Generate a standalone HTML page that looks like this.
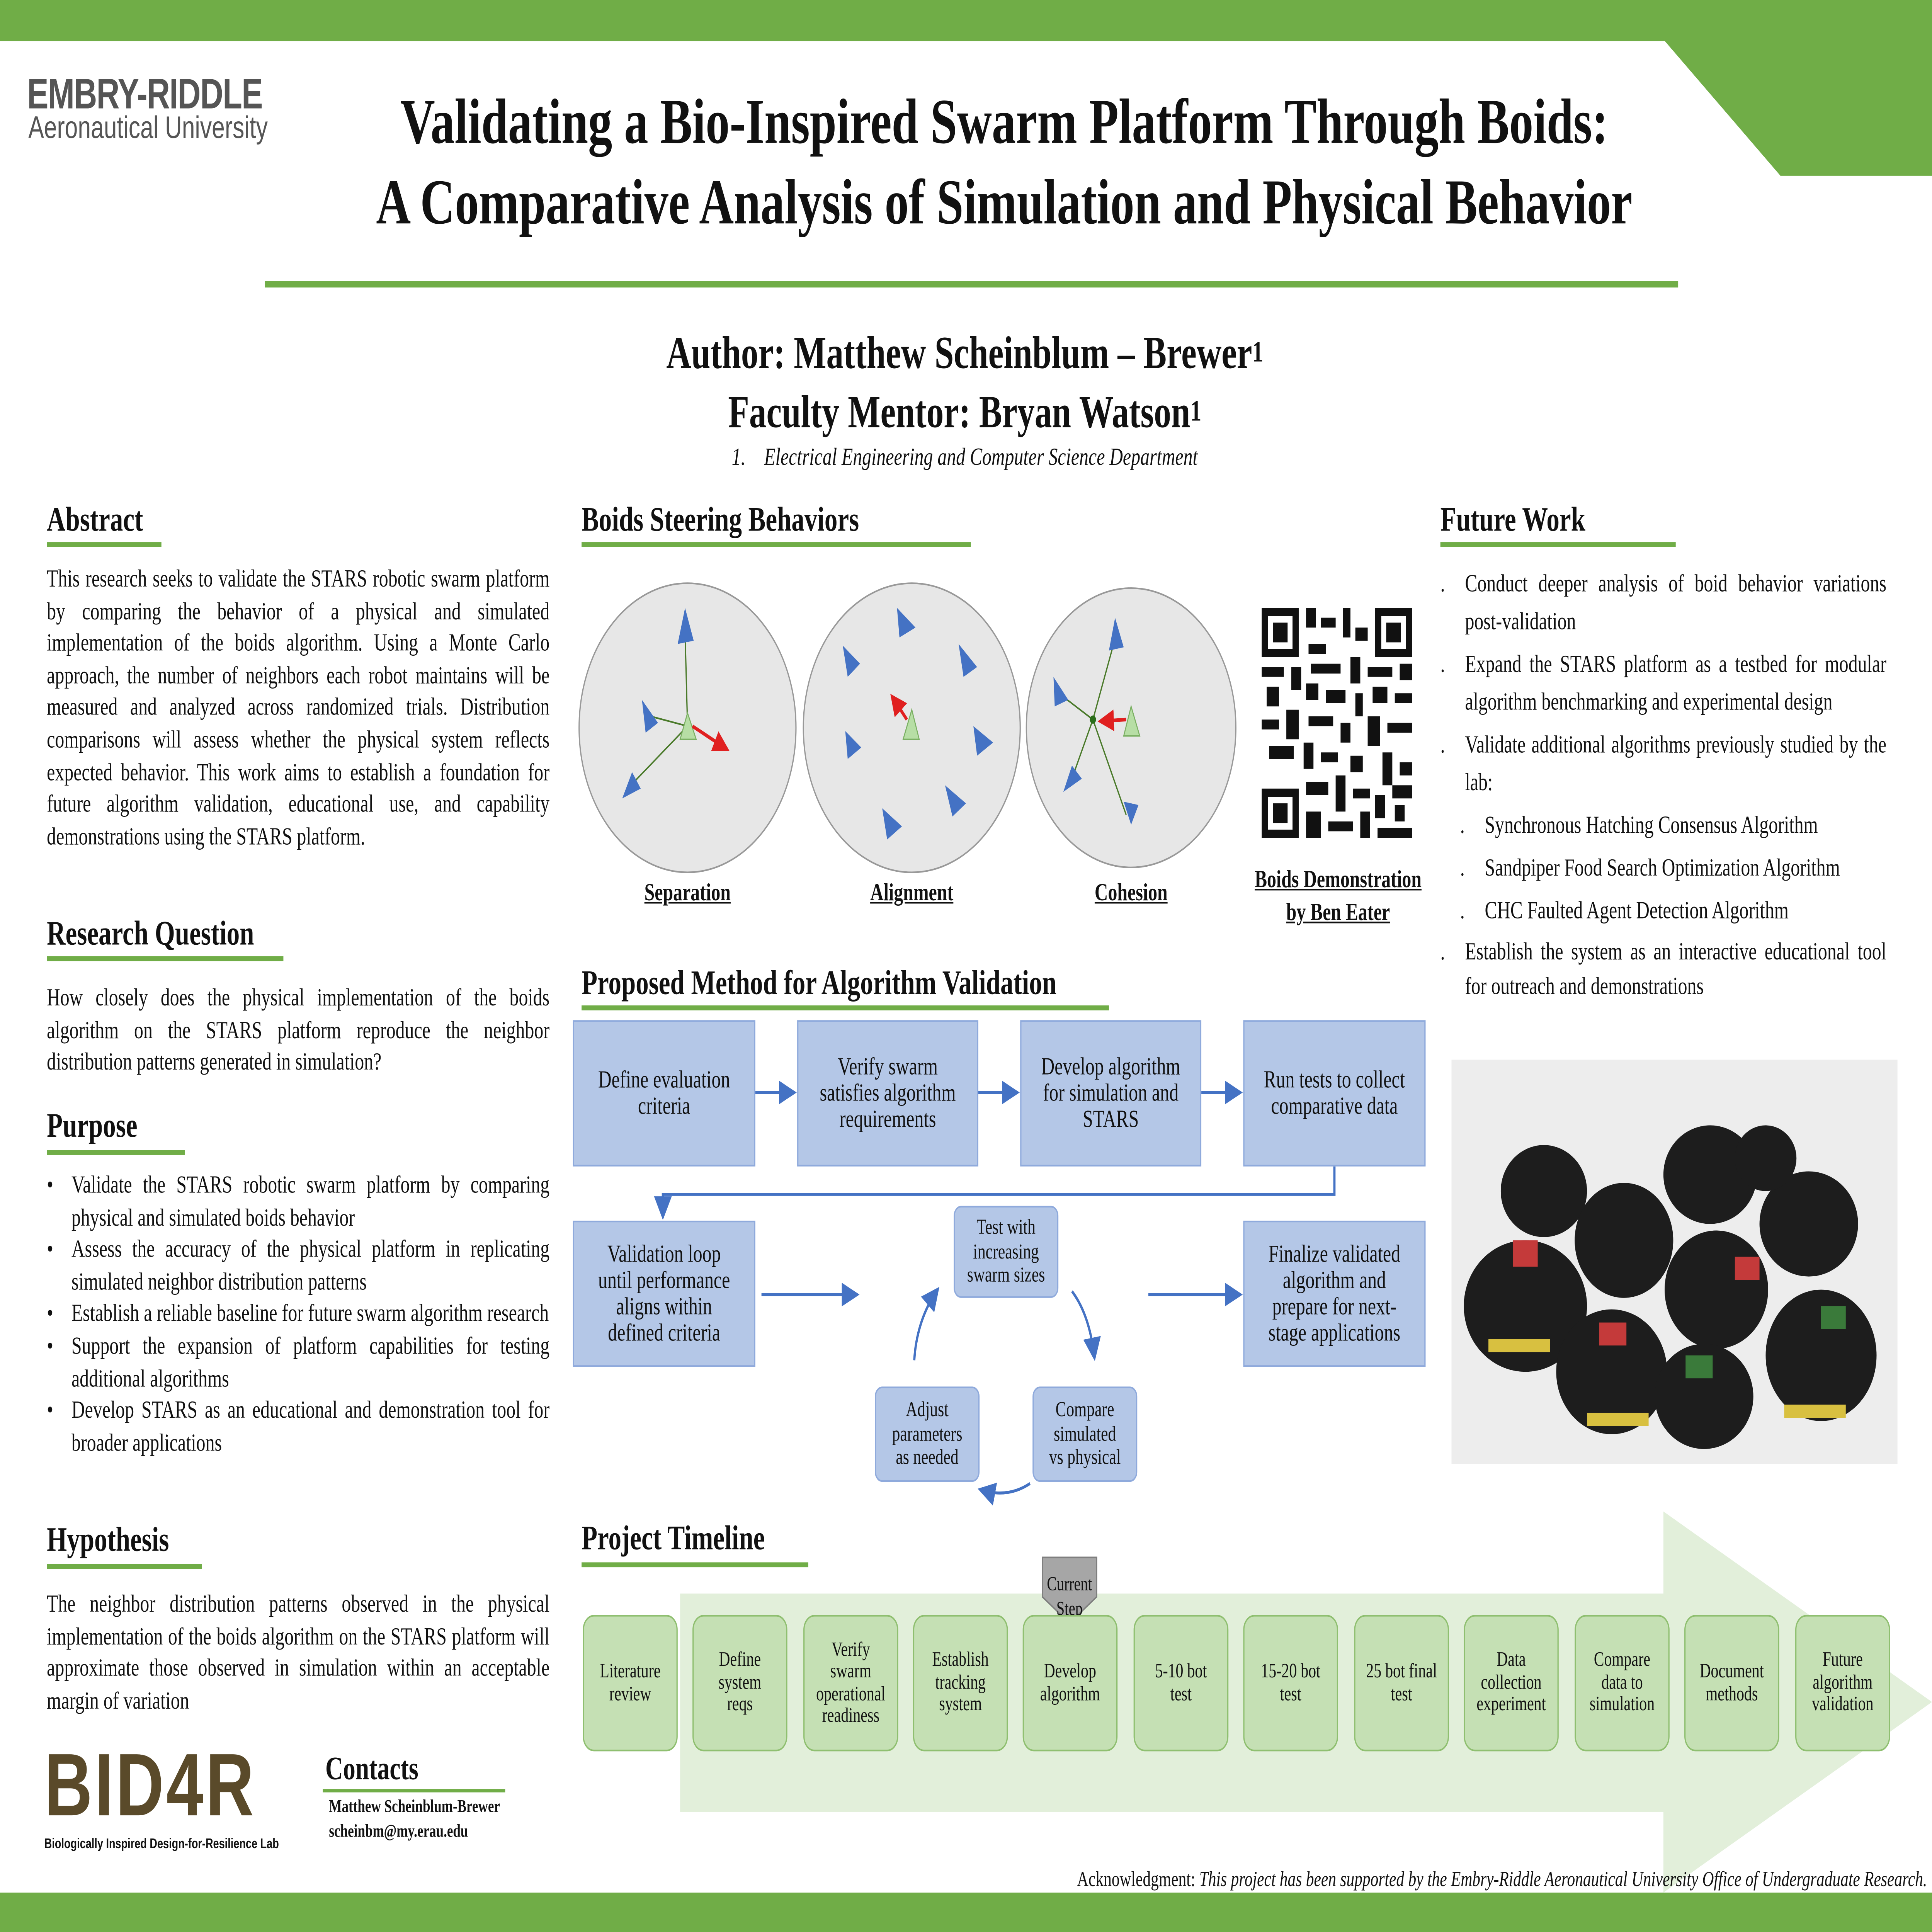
<!DOCTYPE html>
<html><head><meta charset="utf-8">
<style>
html,body{margin:0;padding:0;background:#fff;overflow:hidden;width:100%;height:100%;}
#sv{position:fixed;left:0;top:0;width:100vw;height:100vh;display:block;}
#p{position:relative;width:1568px;height:1176px;font-family:"Liberation Serif",serif;color:#111;overflow:hidden;}
.a{position:absolute;}
.h{position:absolute;font-weight:bold;font-size:21px;}
.ul{position:absolute;height:3px;background:#70ad47;}
.t{position:absolute;font-size:15px;line-height:19.6px;text-align:justify;}
.b{position:absolute;background:#b4c7e7;border:1px solid #8faadc;display:flex;align-items:center;justify-content:center;text-align:center;font-size:15px;line-height:16px;box-sizing:border-box;}
.g{position:absolute;top:983px;width:77px;height:83px;background:#c5e0b4;border:1px solid #8fbf70;border-radius:9px;display:flex;align-items:center;justify-content:center;text-align:center;font-size:12.5px;line-height:13.5px;box-sizing:border-box;}
ul{margin:0;padding:0;list-style:none;}
li{position:relative;padding-left:20px;}
li:before{content:"•";position:absolute;left:0;}
.fw li:before{content:".";}
sup{font-size:18px;line-height:0;position:relative;top:-4px;vertical-align:baseline;}
</style></head><body>
<svg id="sv" viewBox="0 0 1568 1176" preserveAspectRatio="none" xmlns="http://www.w3.org/2000/svg">
<foreignObject x="0" y="0" width="1568" height="1176">
<div xmlns="http://www.w3.org/1999/xhtml" id="p">
<div class="a" style="left:0;top:0;width:1568px;height:25px;background:#70ad47"></div>
<svg class="a" style="left:0;top:0" width="1568" height="1176"><polygon points="1350,24 1568,24 1568,107 1445,107" fill="#70ad47"/></svg>
<div class="a" style="left:0;top:1152px;width:1568px;height:24px;background:#70ad47"></div>
<div class="a" style="left:22px;top:42px;font-family:'Liberation Sans',sans-serif;font-weight:bold;font-size:26px;color:#555;letter-spacing:-0.5px">EMBRY-RIDDLE</div>
<div class="a" style="left:23px;top:68px;font-family:'Liberation Sans',sans-serif;font-size:19px;color:#555">Aeronautical University</div>
<div class="a" style="left:215px;top:50px;width:1200px;text-align:center;font-weight:bold;font-size:39px;line-height:49px">Validating a Bio-Inspired Swarm Platform Through Boids:<br/>A Comparative Analysis of Simulation and Physical Behavior</div>
<div class="a" style="left:215px;top:171px;width:1147px;height:4px;background:#70ad47"></div>
<div class="a" style="left:400px;top:198px;width:766px;text-align:center;font-weight:bold;font-size:28px;line-height:36px">Author: Matthew Scheinblum – Brewer<sup>1</sup><br/>Faculty Mentor: Bryan Watson<sup>1</sup></div>
<div class="a" style="left:400px;top:271px;width:766px;text-align:center;font-style:italic;font-size:15px">1.&#160;&#160;&#160;&#160;Electrical Engineering and Computer Science Department</div>

<div class="h" style="left:38px;top:304px">Abstract</div><div class="ul" style="left:38px;top:330px;width:93px"></div>
<div class="t" style="left:38px;top:344px;width:408px">This research seeks to validate the STARS robotic swarm platform by comparing the behavior of a physical and simulated implementation of the boids algorithm. Using a Monte Carlo approach, the number of neighbors each robot maintains will be measured and analyzed across randomized trials. Distribution comparisons will assess whether the physical system reflects expected behavior. This work aims to establish a foundation for future algorithm validation, educational use, and capability demonstrations using the STARS platform.</div>
<div class="h" style="left:38px;top:556px">Research Question</div><div class="ul" style="left:38px;top:582px;width:192px"></div>
<div class="t" style="left:38px;top:599px;width:408px">How closely does the physical implementation of the boids algorithm on the STARS platform reproduce the neighbor distribution patterns generated in simulation?</div>
<div class="h" style="left:38px;top:673px">Purpose</div><div class="ul" style="left:38px;top:700px;width:112px"></div>
<div class="t" style="left:38px;top:713px;width:408px"><ul>
<li>Validate the STARS robotic swarm platform by comparing physical and simulated boids behavior</li>
<li>Assess the accuracy of the physical platform in replicating simulated neighbor distribution patterns</li>
<li>Establish a reliable baseline for future swarm algorithm research</li>
<li>Support the expansion of platform capabilities for testing additional algorithms</li>
<li>Develop STARS as an educational and demonstration tool for broader applications</li></ul></div>
<div class="h" style="left:38px;top:925px">Hypothesis</div><div class="ul" style="left:38px;top:952px;width:126px"></div>
<div class="t" style="left:38px;top:968px;width:408px">The neighbor distribution patterns observed in the physical implementation of the boids algorithm on the STARS platform will approximate those observed in simulation within an acceptable margin of variation</div>
<div class="a" style="left:36px;top:1060px;font-family:'Liberation Sans',sans-serif;font-weight:900;font-size:54px;line-height:54px;color:#5a4a2a;letter-spacing:2px">BID4R</div>
<div class="a" style="left:36px;top:1117px;font-family:'Liberation Sans',sans-serif;font-weight:bold;font-size:8.5px">Biologically Inspired Design-for-Resilience Lab</div>
<div class="a" style="left:264px;top:1066px;font-weight:bold;font-size:20px">Contacts</div><div class="ul" style="left:262px;top:1089px;width:148px;height:2px"></div>
<div class="a" style="left:267px;top:1093px;font-weight:bold;font-size:11px;line-height:15px">Matthew Scheinblum-Brewer<br/>scheinbm@my.erau.edu</div>

<div class="h" style="left:472px;top:304px">Boids Steering Behaviors</div><div class="ul" style="left:472px;top:330px;width:316px"></div>
<svg class="a" style="left:0;top:0" width="1568" height="1176">
<defs><marker id="rh" markerWidth="6" markerHeight="6" refX="5" refY="3" orient="auto"><path d="M0,0L6,3L0,6z" fill="#e02020"/></marker>
<marker id="bh" markerWidth="8" markerHeight="8" refX="6" refY="4" orient="auto"><path d="M0,0L8,4L0,8z" fill="#4472c4"/></marker></defs>
<g stroke="#999" stroke-width="1" fill="#e7e7e7"><circle cx="558" cy="443" r="88"/><circle cx="740" cy="443" r="88"/><circle cx="918" cy="443" r="85"/></g>
<g stroke="#4a7a2a" stroke-width="1"><line x1="558" y1="442" x2="556" y2="385"/><line x1="558" y1="442" x2="528" y2="436"/><line x1="558" y1="442" x2="512" y2="478"/>
<line x1="887" y1="438" x2="906" y2="386"/><line x1="887" y1="438" x2="861" y2="423"/><line x1="887" y1="438" x2="869" y2="476"/><line x1="887" y1="438" x2="914" y2="496"/></g>
<g fill="#4472c4"><polygon points="556,370 550,392 563,390"/><polygon points="521,426 524,446 534,440"/><polygon points="505,486 520,480 513,470"/>
<polygon points="728,370 730,388 743,382"/><polygon points="684,393 688,412 698,404"/><polygon points="778,392 782,412 793,406"/><polygon points="686,445 688,462 699,455"/><polygon points="790,442 793,460 806,452"/><polygon points="767,478 773,497 784,489"/><polygon points="716,492 720,511 732,503"/>
<polygon points="905,376 900,396 912,394"/><polygon points="855,412 856,430 867,426"/><polygon points="863,482 870,466 878,474"/><polygon points="912,488 918,502 924,490"/></g>
<g fill="#b7dea5" stroke="#7bb063" stroke-width="0.8"><polygon points="558,434 552,450 565,450"/><polygon points="740,432 733,450 746,450"/><polygon points="918,430 912,448 925,448"/></g>
<circle cx="887" cy="438" r="2.5" fill="#2a6e1a"/>
<g stroke="#e02020" stroke-width="2.2"><line x1="562" y1="442" x2="590" y2="456" marker-end="url(#rh)"/><line x1="736" y1="438" x2="724" y2="424" marker-end="url(#rh)"/><line x1="914" y1="438" x2="893" y2="439" marker-end="url(#rh)"/></g>
<g fill="#111"><rect x="1024" y="370" width="30" height="30"/><rect x="1116" y="370" width="30" height="30"/><rect x="1024" y="480" width="30" height="30"/>
<rect x="1029" y="375" width="20" height="20" fill="#fff"/><rect x="1121" y="375" width="20" height="20" fill="#fff"/><rect x="1029" y="485" width="20" height="20" fill="#fff"/>
<rect x="1033" y="379" width="12" height="12"/><rect x="1125" y="379" width="12" height="12"/><rect x="1033" y="489" width="12" height="12"/>
<rect x="1060" y="370" width="8" height="12"/><rect x="1072" y="376" width="12" height="6"/><rect x="1090" y="370" width="6" height="18"/><rect x="1100" y="382" width="10" height="8"/>
<rect x="1062" y="392" width="14" height="6"/><rect x="1024" y="406" width="18" height="6"/><rect x="1048" y="406" width="8" height="14"/><rect x="1064" y="404" width="24" height="6"/><rect x="1096" y="400" width="8" height="16"/><rect x="1110" y="406" width="20" height="6"/><rect x="1136" y="404" width="10" height="10"/>
<rect x="1028" y="418" width="10" height="12"/><rect x="1060" y="416" width="10" height="10"/><rect x="1076" y="420" width="16" height="8"/><rect x="1100" y="422" width="6" height="14"/><rect x="1114" y="418" width="12" height="10"/><rect x="1132" y="422" width="14" height="6"/>
<rect x="1024" y="438" width="14" height="6"/><rect x="1044" y="432" width="10" height="18"/><rect x="1062" y="436" width="20" height="6"/><rect x="1088" y="440" width="8" height="12"/><rect x="1110" y="436" width="10" height="18"/><rect x="1126" y="440" width="20" height="6"/>
<rect x="1030" y="454" width="20" height="8"/><rect x="1058" y="452" width="8" height="16"/><rect x="1072" y="458" width="14" height="6"/><rect x="1096" y="460" width="10" height="10"/><rect x="1122" y="458" width="8" height="20"/><rect x="1136" y="464" width="10" height="8"/>
<rect x="1060" y="476" width="18" height="8"/><rect x="1084" y="472" width="8" height="22"/><rect x="1098" y="480" width="14" height="6"/><rect x="1116" y="484" width="8" height="14"/><rect x="1130" y="478" width="16" height="8"/>
<rect x="1060" y="494" width="12" height="16"/><rect x="1078" y="500" width="20" height="6"/><rect x="1104" y="494" width="8" height="16"/><rect x="1118" y="504" width="28" height="6"/><rect x="1132" y="490" width="8" height="10"/></g>
<g stroke="#4472c4" stroke-width="1.8" fill="none">
<line x1="613" y1="665" x2="643" y2="665" marker-end="url(#bh)"/><line x1="794" y1="665" x2="824" y2="665" marker-end="url(#bh)"/><line x1="975" y1="665" x2="1005" y2="665" marker-end="url(#bh)"/>
<polyline points="1083,710 1083,727 538,727 538,739" marker-end="url(#bh)"/>
<line x1="618" y1="788" x2="694" y2="788" marker-end="url(#bh)"/><line x1="932" y1="788" x2="1005" y2="788" marker-end="url(#bh)"/>
<path d="M870,786 Q884,800 888,825" marker-end="url(#bh)"/><path d="M836,903 Q818,912 797,907" marker-end="url(#bh)"/><path d="M742,828 Q744,804 760,786" marker-end="url(#bh)"/></g>
<polygon points="552,970 1350,970 1350,920 1568,1036 1350,1152 1350,1103 552,1103" fill="#e2efda"/>
<polygon points="846,948 890,948 890,972 868,988 846,972" fill="#a6a6a6" stroke="#7f7f7f"/>
</svg>
<div class="a" style="left:1008px;top:526px;width:156px;text-align:center;font-weight:bold;font-size:15px;line-height:20px;text-decoration:underline">Boids Demonstration<br/>by Ben Eater</div>
<div class="a" style="left:470px;top:536px;width:176px;text-align:center;font-weight:bold;font-size:15px;text-decoration:underline">Separation</div>
<div class="a" style="left:652px;top:536px;width:176px;text-align:center;font-weight:bold;font-size:15px;text-decoration:underline">Alignment</div>
<div class="a" style="left:833px;top:536px;width:170px;text-align:center;font-weight:bold;font-size:15px;text-decoration:underline">Cohesion</div>

<div class="h" style="left:472px;top:586px">Proposed Method for Algorithm Validation</div><div class="ul" style="left:472px;top:612px;width:428px"></div>
<div class="b" style="left:465px;top:621px;width:148px;height:89px">Define evaluation<br/>criteria</div>
<div class="b" style="left:647px;top:621px;width:147px;height:89px">Verify swarm<br/>satisfies algorithm<br/>requirements</div>
<div class="b" style="left:828px;top:621px;width:147px;height:89px">Develop algorithm<br/>for simulation and<br/>STARS</div>
<div class="b" style="left:1009px;top:621px;width:148px;height:89px">Run tests to collect<br/>comparative data</div>
<div class="b" style="left:465px;top:743px;width:148px;height:89px">Validation loop<br/>until performance<br/>aligns within<br/>defined criteria</div>
<div class="b" style="left:1009px;top:743px;width:148px;height:89px">Finalize validated<br/>algorithm and<br/>prepare for next-<br/>stage applications</div>
<div class="b" style="left:774px;top:734px;width:85px;height:56px;font-size:13px;line-height:14.5px;border-radius:6px">Test with<br/>increasing<br/>swarm sizes</div>
<div class="b" style="left:838px;top:844px;width:85px;height:58px;font-size:13px;line-height:14.5px;border-radius:6px">Compare<br/>simulated<br/>vs physical</div>
<div class="b" style="left:710px;top:844px;width:85px;height:58px;font-size:13px;line-height:14.5px;border-radius:6px">Adjust<br/>parameters<br/>as needed</div>

<div class="h" style="left:472px;top:924px">Project Timeline</div><div class="ul" style="left:472px;top:951px;width:184px"></div>
<div class="a" style="left:846px;top:957px;width:44px;text-align:center;font-size:12px;line-height:15px">Current<br/>Step</div>
<div class="g" style="left:473px">Literature<br/>review</div>
<div class="g" style="left:562px">Define<br/>system<br/>reqs</div>
<div class="g" style="left:652px">Verify<br/>swarm<br/>operational<br/>readiness</div>
<div class="g" style="left:741px">Establish<br/>tracking<br/>system</div>
<div class="g" style="left:830px">Develop<br/>algorithm</div>
<div class="g" style="left:920px">5-10 bot<br/>test</div>
<div class="g" style="left:1009px">15-20 bot<br/>test</div>
<div class="g" style="left:1099px">25 bot final<br/>test</div>
<div class="g" style="left:1188px">Data<br/>collection<br/>experiment</div>
<div class="g" style="left:1278px">Compare<br/>data to<br/>simulation</div>
<div class="g" style="left:1367px">Document<br/>methods</div>
<div class="g" style="left:1457px">Future<br/>algorithm<br/>validation</div>

<div class="h" style="left:1169px;top:304px">Future Work</div><div class="ul" style="left:1169px;top:330px;width:191px"></div>
<div class="t fw" style="left:1169px;top:345px;width:362px;line-height:23px"><ul>
<li>Conduct deeper analysis of boid behavior variations post-validation</li>
<li style="margin-top:3px">Expand the STARS platform as a testbed for modular algorithm benchmarking and experimental design</li>
<li style="margin-top:3px">Validate additional algorithms previously studied by the lab:</li>
<li style="margin-left:16px;margin-top:3px">Synchronous Hatching Consensus Algorithm</li>
<li style="margin-left:16px;margin-top:3px">Sandpiper Food Search Optimization Algorithm</li>
<li style="margin-left:16px;margin-top:3px">CHC Faulted Agent Detection Algorithm</li>
<li style="margin-top:3px;line-height:21px">Establish the system as an interactive educational tool for outreach and demonstrations</li></ul></div>
<svg class="a" style="left:1178px;top:645px" width="362" height="246">
<rect width="362" height="246" fill="#ededed"/>
<g fill="#1d1d1d">
<ellipse cx="60" cy="150" rx="50" ry="40"/><ellipse cx="75" cy="80" rx="35" ry="28"/><ellipse cx="140" cy="110" rx="40" ry="35"/><ellipse cx="130" cy="190" rx="45" ry="38"/>
<ellipse cx="210" cy="70" rx="38" ry="30"/><ellipse cx="215" cy="140" rx="42" ry="36"/><ellipse cx="205" cy="205" rx="40" ry="32"/>
<ellipse cx="290" cy="100" rx="40" ry="32"/><ellipse cx="300" cy="180" rx="45" ry="40"/><ellipse cx="255" cy="60" rx="25" ry="20"/></g>
<g fill="#c43a3a"><rect x="50" y="110" width="20" height="16"/><rect x="120" y="160" width="22" height="14"/><rect x="230" y="120" width="20" height="14"/></g>
<g fill="#3a7a3a"><rect x="190" y="180" width="22" height="14"/><rect x="300" y="150" width="20" height="14"/></g>
<g fill="#d8c040"><rect x="30" y="170" width="50" height="8"/><rect x="110" y="215" width="50" height="8"/><rect x="270" y="210" width="50" height="8"/></g>
</svg>
<div class="a" style="left:700px;top:1136px;width:864px;text-align:right;font-size:13px">Acknowledgment: <i>This project has been supported by the Embry-Riddle Aeronautical University Office of Undergraduate Research.</i></div>
</div>
</foreignObject>
</svg>
</body></html>
